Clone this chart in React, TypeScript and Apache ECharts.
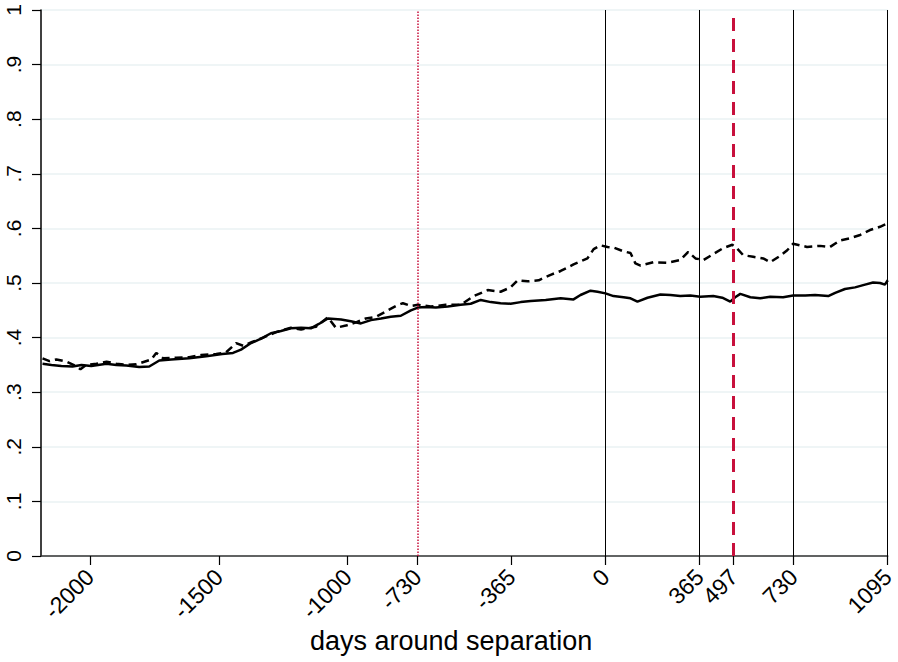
import React, { useEffect, useRef } from "react";
import * as echarts from "echarts";

// days around separation (x) and share (y) for the two series
const solidDays = [-2184, -2149, -2111, -2068, -2033, -1995, -1936, -1898, -1859, -1809, -1770, -1731, -1685, -1615, -1549, -1487, -1445, -1414, -1375, -1336, -1298, -1259, -1220, -1181, -1143, -1112, -1077, -1026, -988, -949, -910, -871, -833, -794, -755, -728, -697, -658, -612, -562, -523, -484, -445, -407, -368, -329, -290, -232, -174, -124, -97, -58, -31, 0, 31, 70, 97, 124, 163, 213, 252, 290, 329, 368, 418, 453, 484, 503, 523, 562, 600, 639, 689, 728, 775, 813, 864, 891, 929, 968, 1007, 1038, 1065, 1084, 1095];
const solidValues = [0.352, 0.350, 0.348, 0.347, 0.350, 0.348, 0.352, 0.350, 0.349, 0.346, 0.347, 0.358, 0.360, 0.362, 0.366, 0.370, 0.372, 0.378, 0.390, 0.398, 0.408, 0.412, 0.417, 0.418, 0.417, 0.425, 0.435, 0.433, 0.430, 0.426, 0.432, 0.435, 0.438, 0.440, 0.450, 0.455, 0.456, 0.455, 0.457, 0.460, 0.462, 0.469, 0.465, 0.463, 0.462, 0.465, 0.467, 0.469, 0.472, 0.470, 0.478, 0.486, 0.484, 0.481, 0.476, 0.474, 0.472, 0.466, 0.473, 0.479, 0.478, 0.476, 0.477, 0.475, 0.476, 0.473, 0.466, 0.474, 0.480, 0.474, 0.472, 0.475, 0.474, 0.477, 0.477, 0.478, 0.476, 0.482, 0.489, 0.492, 0.497, 0.501, 0.500, 0.497, 0.505];

const dashedDays = [-2184, -2157, -2130, -2091, -2064, -2037, -2014, -1975, -1936, -1898, -1859, -1820, -1762, -1743, -1716, -1665, -1615, -1569, -1510, -1472, -1433, -1406, -1371, -1328, -1278, -1220, -1181, -1123, -1077, -1046, -1007, -968, -930, -891, -844, -813, -786, -755, -728, -678, -620, -562, -511, -457, -407, -368, -341, -302, -259, -213, -174, -124, -70, -46, -19, 8, 31, 70, 97, 116, 136, 186, 240, 290, 321, 349, 380, 418, 457, 492, 511, 534, 573, 612, 639, 678, 705, 728, 782, 833, 871, 910, 949, 988, 1026, 1065, 1092];
const dashedValues = [0.362, 0.357, 0.360, 0.356, 0.350, 0.342, 0.350, 0.352, 0.356, 0.352, 0.350, 0.351, 0.360, 0.372, 0.362, 0.363, 0.364, 0.368, 0.370, 0.373, 0.390, 0.385, 0.392, 0.400, 0.410, 0.418, 0.415, 0.420, 0.437, 0.418, 0.422, 0.428, 0.435, 0.438, 0.450, 0.458, 0.463, 0.458, 0.460, 0.457, 0.460, 0.460, 0.476, 0.487, 0.484, 0.492, 0.505, 0.503, 0.505, 0.515, 0.522, 0.534, 0.545, 0.562, 0.569, 0.566, 0.565, 0.558, 0.555, 0.536, 0.532, 0.538, 0.537, 0.542, 0.557, 0.545, 0.542, 0.553, 0.564, 0.570, 0.563, 0.551, 0.548, 0.545, 0.538, 0.550, 0.560, 0.572, 0.566, 0.568, 0.566, 0.578, 0.582, 0.588, 0.597, 0.603, 0.609];

const xTickValues = [-2000, -1500, -1000, -730, -365, 0, 365, 497, 730, 1095];
const blackLineDays = [0, 365, 730, 1095];
const redDottedDay = -730;
const redDashedDay = 497;
const xTitle = "days around separation";

const FONT = "'Liberation Sans', Arial, sans-serif";
const RED = "#c8103c";

export default function App() {
  const ref = useRef<HTMLDivElement>(null);
  useEffect(() => {
    if (!ref.current) return;
    const chart = echarts.init(ref.current, null, { renderer: "svg" });
    const solid = solidDays.map((d, i) => [d, solidValues[i]]);
    const dashed = dashedDays.map((d, i) => [d, dashedValues[i]]);
    const markData: any[] = [
      ...blackLineDays.map((d) => ({ xAxis: d, lineStyle: { color: "#000", width: 1, type: "solid" } })),
      { xAxis: redDottedDay, lineStyle: { color: RED, width: 1.5, type: [1.5, 1.5] } },
      { xAxis: redDashedDay, lineStyle: { color: RED, width: 3, type: [13, 8] } },
    ];
    chart.setOption({
      animation: false,
      backgroundColor: "#fff",
      grid: { left: 41, right: 10, top: 10, bottom: 106, containLabel: false },
      xAxis: {
        type: "value",
        min: -2190,
        max: 1095,
        axisLine: { show: true, onZero: false, lineStyle: { color: "#333", width: 1.5 } },
        axisTick: { show: true, length: 9, customValues: xTickValues, lineStyle: { color: "#000", width: 1.2 } },
        axisLabel: {
          customValues: xTickValues,
          rotate: 45,
          margin: 17,
          fontFamily: FONT,
          fontSize: 23,
          color: "#000",
          formatter: (v: number) => String(v),
        },
        splitLine: { show: false },
      },
      yAxis: {
        type: "value",
        min: 0,
        max: 1,
        interval: 0.1,
        axisLine: { show: true, onZero: false, lineStyle: { color: "#000", width: 1.5 } },
        axisTick: { show: true, length: 9, lineStyle: { color: "#000", width: 1.2 } },
        axisLabel: {
          rotate: 90,
          margin: 17,
          fontFamily: FONT,
          fontSize: 21,
          color: "#000",
          formatter: (v: number) => {
            if (v === 0) return "0";
            if (Math.abs(v - 1) < 1e-9) return "1";
            return v.toFixed(1).replace(/^0/, "");
          },
        },
        splitLine: { show: true, lineStyle: { color: "#eaf2f3", width: 1.5 } },
      },
      graphic: [
        {
          type: "text",
          left: 310,
          top: 627,
          style: { text: xTitle, font: `27px ${FONT}`, fill: "#000" },
        },
      ],
      series: [
        {
          type: "line",
          data: solid,
          showSymbol: false,
          lineStyle: { color: "#000", width: 2.5 },
          z: 3,
          markLine: {
            silent: true,
            symbol: "none",
            label: { show: false },
            data: markData,
          },
        },
        {
          type: "line",
          data: dashed,
          showSymbol: false,
          lineStyle: { color: "#000", width: 2.5, type: [8, 5] },
          z: 3,
        },
      ],
    });
    return () => chart.dispose();
  }, []);
  return (
    <div
      ref={ref}
      style={{ position: "fixed", left: 0, top: 0, width: 898, height: 662, background: "#fff" }}
    />
  );
}
